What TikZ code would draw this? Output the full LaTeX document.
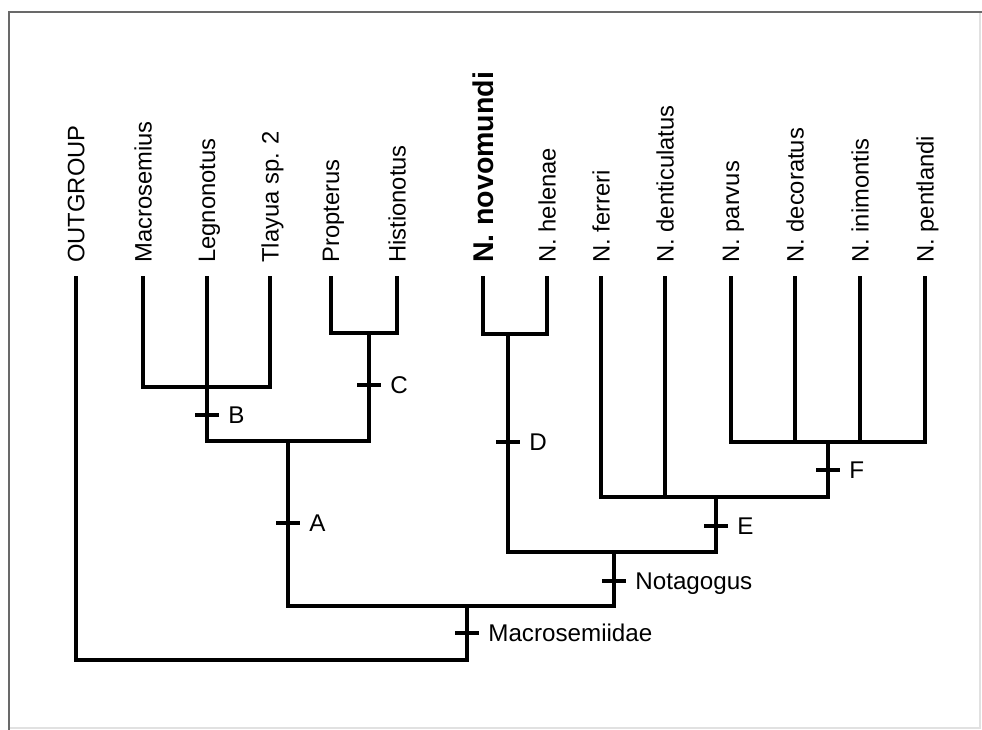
\documentclass[tikz,border=0pt]{standalone}
\usepackage{fontspec}
\setmainfont{Liberation Sans}
\usetikzlibrary{positioning}
\definecolor{framegray}{RGB}{105,105,105}
\definecolor{framelight}{RGB}{225,225,225}

\begin{document}
\begin{tikzpicture}[
  x=0.025cm, y=-0.025cm,
  branch/.style={line width=2.9pt, line join=miter, line cap=rect},
  taxon/.style={rotate=90, anchor=west, inner sep=0pt, text depth=0pt, font=\fontsize{16.9}{20}\selectfont},
  focal/.style={taxon, font=\fontsize{20.3}{24}\selectfont\bfseries},
  syn/.style={fill=black, inner sep=0pt, minimum width=6mm, minimum height=1.15mm},
  clab/.style={inner sep=0pt, text depth=0pt, font=\fontsize{17.2}{20}\selectfont}
]
\useasboundingbox (0,0) rectangle (982,730);
\draw[framelight, line width=0.8pt] (980,12) -- (980,728) -- (9,728);
\draw[framegray, line width=2pt] (9,730) -- (9,12) -- (982,12);

\node[taxon] (og)  at (76,263)  {OUTGROUP};
\node[taxon] (mac) at (143,263) {Macrosemius};
\node[taxon] (leg) at (207,263) {Legnonotus};
\node[taxon] (tla) at (270,263) {Tlayua sp. 2};
\node[taxon] (pro) at (331,263) {Propterus};
\node[taxon] (his) at (397,263) {Histionotus};
\node[focal] (nov) at (483,263) {N.\hspace{0.3em}novomundi};
\node[taxon] (hel) at (547,263) {N. helenae};
\node[taxon] (fer) at (601,263) {N. ferreri};
\node[taxon] (den) at (665,263) {N. denticulatus};
\node[taxon] (par) at (731,263) {N. parvus};
\node[taxon] (dec) at (795,263) {N. decoratus};
\node[taxon] (ini) at (860,263) {N. inimontis};
\node[taxon] (pen) at (925,263) {N. pentlandi};

\coordinate (t-og)  at (76,278);
\coordinate (t-mac) at (143,278);
\coordinate (t-leg) at (207,278);
\coordinate (t-tla) at (270,278);
\coordinate (t-pro) at (331,278);
\coordinate (t-his) at (397,278);
\coordinate (t-nov) at (483,278);
\coordinate (t-hel) at (547,278);
\coordinate (t-fer) at (601,278);
\coordinate (t-den) at (665,278);
\coordinate (t-par) at (731,278);
\coordinate (t-dec) at (795,278);
\coordinate (t-ini) at (860,278);
\coordinate (t-pen) at (925,278);

\coordinate (nB) at (207,387);
\coordinate (nC) at (369,333);
\coordinate (nA) at (288,441);
\coordinate (nD) at (508,334);
\coordinate (nF) at (828,442);
\coordinate (nE) at (716,497);
\coordinate (nN) at (614,552);
\coordinate (nM) at (467,606);
\coordinate (root) at (467,660);

\draw[branch] (t-mac) |- (nB) -| (t-tla);
\draw[branch] (t-leg) |- (nA) -| (nC);
\draw[branch] (t-pro) |- (nC) -| (t-his);
\draw[branch] (nA) |- (nM) -| (nN);
\draw[branch] (t-og) |- (root) -- (nM);
\draw[branch] (t-nov) |- (nD) -| (t-hel);
\draw[branch] (nD) |- (nN) -| (nE);
\draw[branch] (t-fer) |- (nE) -| (nF);
\draw[branch] (t-den) -- (t-den |- nE);
\draw[branch] (t-par) |- (nF) -| (t-pen);
\draw[branch] (t-dec) -- (t-dec |- nF);
\draw[branch] (t-ini) -- (t-ini |- nF);

\node[syn] (sB) at (207,415) {};
\node[syn] (sC) at (369,385) {};
\node[syn] (sA) at (288,523) {};
\node[syn] (sD) at (508,442) {};
\node[syn] (sE) at (716,526) {};
\node[syn] (sF) at (828,470) {};
\node[syn] (sN) at (614,581) {};
\node[syn] (sM) at (467,633) {};

\node[clab, right=2.2mm of sB] (lB) {B};
\node[clab, right=2.2mm of sC] (lC) {C};
\node[clab, right=2.2mm of sA] (lA) {A};
\node[clab, right=2.2mm of sD] (lD) {D};
\node[clab, right=2.2mm of sE] (lE) {E};
\node[clab, right=2.2mm of sF] (lF) {F};
\node[clab, right=2.2mm of sN] (lN) {Notagogus};
\node[clab, right=2.2mm of sM] (lM) {Macrosemiidae};
\end{tikzpicture}
\end{document}
